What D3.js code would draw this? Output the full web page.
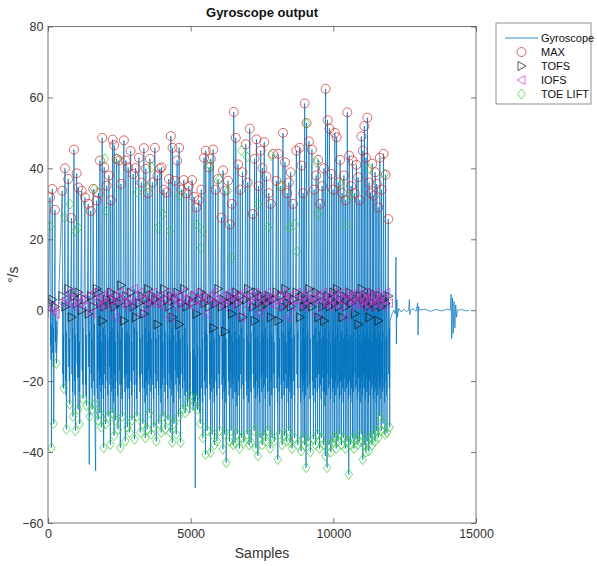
<!DOCTYPE html>
<html>
<head>
<meta charset="utf-8">
<script src="https://cdn.jsdelivr.net/npm/d3@7"></script>
<style>
  body { margin: 0; background: #fff; }
  svg text { font-family: "Liberation Sans", Arial, Helvetica, sans-serif; }
</style>
</head>
<body>
<div id="chart"></div>
<script>
// 每一步的 MAX 峰值所在采样点
const strideSamples = [
  70,150,245,500,595,710,822,910,1005,1060,
  1180,1295,1410,1498,1585,1705,1768,1820,1900,1970,
  2055,2135,2198,2265,2320,2405,2485,2555,2660,2730,
  2810,2895,2985,3070,3185,3273,3360,3430,3500,3570,
  3658,3745,3833,3920,3980,4060,4155,4235,4305,4364,
  4445,4525,4595,4680,4760,4848,4935,5050,5120,5198,
  5285,5373,5470,5530,5645,5705,5786,5873,5960,6080,
  6135,6195,6310,6370,6440,6510,6580,6660,6738,6815,
  6930,7000,7070,7175,7238,7305,7378,7455,7515,7578,
  7655,7735,7805,7885,8005,8068,8155,8235,8305,8383,
  8442,8505,8593,8705,8820,8887,8943,8995,9062,9145,
  9250,9328,9398,9468,9538,9608,9670,9730,9797,9863,
  9933,9993,10052,10115,10178,10238,10308,10370,10430,10490,
  10556,10623,10675,10745,10808,10868,10927,10983,11036,11088,
  11141,11193,11253,11305,11365,11410,11466,11522,11575,11630,
  11690,11760,11830,11925
];
const maxValues = [
  31.8,34.2,28.3,33.7,40,37,26,45.3,38.6,34.6,
  33.7,31.8,30,28,34.2,30.9,33,42.2,48.6,40.3,
  35.1,38,31,48.1,46.5,42.7,42.2,35.6,47.9,42.2,
  40.3,44.9,38.4,40.1,43,36,45.7,39.9,33,42.7,
  36,45.8,38,39.9,40.3,34,33.2,37,49.1,45.8,
  36.5,42.2,45.8,34,36.7,33,35,36.7,32,29,
  31,34,43,45,40.3,42.7,45.3,34,37,26.1,
  39.4,33.7,36.5,24.2,30,55.9,48.6,41.1,34,38.9,
  46.8,36,51.2,27.1,42.7,48.2,35,45,40.1,47.4,
  37.7,33,30,44.1,36.5,44.1,35,50,41.7,33,
  36,38.9,30,45,45.8,40.8,33,58.3,52.8,47.6,
  45.3,34,38,42.4,30,35,40,62.4,53.6,51.2,
  38.4,34,50,48.8,36,42.4,33,38,31,55.8,
  43.6,35,42.2,33,41,37.5,31,49,45,51.9,
  43,54.3,36,33,41.3,32.3,38.9,35.6,29,43,
  34,44.1,38.2,25.7
];
const tofsValues = [
  2,3,1,4,1,6,-2,4,2,5,
  0,3,-1,4,1,6,5,2,-3,1,
  3,2,5,3,1,4,2,7,-3,4,
  2,5,1,-2,2,4,-1,3,6,2,
  4,3,-4,4,2,6,3,1,4,-2,
  3,5,-4,2,6,1,3,2,4,-1,
  3,5,2,4,1,3,-5,2,6,1,
  3,-6,2,4,-1,3,5,2,4,-2,
  3,6,4,1,-3,5,2,4,1,3,
  2,4,-2,3,5,-3,4,1,6,2,
  4,1,3,5,-2,4,1,3,2,6,
  1,3,5,-2,4,1,-3,2,4,1,
  3,5,2,6,1,3,-2,4,1,3,
  5,2,4,-1,3,-4,4,6,3,2,
  4,1,-2,5,2,4,1,3,-3,4,
  1,3,2,4
];
const iofsValues = [
  1,0,-1,2,3,5,2,1,4,2,
  3,1,4,-1,5,2,3,1,4,2,
  5,3,1,4,-2,3,5,2,4,1,
  3,2,6,3,5,-1,3,1,4,2,
  5,3,2,4,1,3,5,-2,4,3,
  1,4,2,5,3,2,4,1,3,5,
  2,4,3,-1,4,2,5,3,2,4,
  1,3,5,2,4,3,1,4,-2,5,
  3,1,4,2,5,3,-1,4,1,3,
  5,2,4,3,1,4,2,5,3,-2,
  4,1,3,5,2,4,1,3,5,2,
  4,3,-1,4,2,5,3,2,4,1,
  3,5,2,4,1,3,5,-2,4,3,
  1,4,2,5,3,2,4,1,3,5,
  2,4,3,1,4,2,5,3,2,4,
  1,3,5,2
];
// 支撑期三个中间点
const stanceLowValues = [
  -10,-12,-9,-18,-20,-16,-18,-20,-15,-19,
  -17,-21,-16,-18,-20,-22,-17,-19,-21,-18,
  -20,-16,-19,-22,-18,-20,-17,-21,-19,-18,
  -22,-20,-17,-21,-19,-18,-22,-20,-17,-19,
  -21,-18,-20,-22,-17,-19,-21,-18,-20,-22,
  -17,-19,-21,-18,-20,-23,-25,-24,-26,-24,
  -25,-22,-20,-18,-21,-19,-22,-20,-18,-21,
  -19,-22,-20,-18,-21,-19,-23,-20,-18,-21,
  -20,-22,-19,-18,-21,-20,-22,-19,-18,-21,
  -19,-23,-20,-18,-22,-19,-21,-20,-18,-22,
  -19,-21,-20,-18,-22,-19,-21,-20,-18,-21,
  -20,-22,-19,-18,-21,-19,-23,-20,-18,-21,
  -19,-22,-20,-18,-21,-20,-22,-19,-18,-21,
  -20,-22,-19,-18,-21,-19,-22,-20,-18,-21,
  -19,-22,-20,-18,-21,-19,-22,-20,-18,-21,
  -19,-22,-20,-18
];
const stanceDeepValues = [
  -14,-16,-12,-22,-24,-20,-23,-24,-19,-23,
  -21,-24,-20,-22,-24,-25,-21,-23,-25,-22,
  -24,-21,-23,-26,-22,-24,-21,-25,-23,-22,
  -25,-24,-21,-25,-23,-22,-26,-24,-21,-23,
  -25,-22,-24,-26,-21,-23,-25,-22,-24,-26,
  -21,-23,-25,-22,-24,-27,-29,-28,-30,-28,
  -29,-26,-24,-22,-25,-23,-26,-24,-22,-25,
  -23,-26,-24,-22,-25,-23,-27,-24,-22,-25,
  -24,-26,-23,-22,-25,-24,-26,-23,-22,-25,
  -23,-27,-24,-22,-26,-23,-25,-24,-22,-26,
  -23,-25,-24,-22,-26,-23,-25,-24,-22,-25,
  -24,-26,-23,-22,-25,-23,-27,-24,-22,-25,
  -23,-26,-24,-22,-25,-24,-26,-23,-22,-25,
  -24,-26,-23,-22,-25,-23,-26,-24,-22,-25,
  -23,-26,-24,-22,-25,-23,-26,-24,-22,-25,
  -23,-26,-24,-22
];
const stanceMidValues = [
  -4,-5,-3,-7,-6,-8,-5,-7,-6,-9,
  -5,-7,-6,-8,-4,-7,-6,-9,-5,-7,
  -8,-6,-5,-7,-9,-6,-8,-5,-7,-6,
  -7,-9,-5,-6,-8,-7,-5,-9,-6,-8,
  -6,-8,-7,-5,-9,-6,-7,-8,-5,-7,
  -9,-6,-8,-7,-5,-10,-12,-11,-13,-10,
  -11,-8,-6,-7,-9,-5,-8,-6,-7,-9,
  -6,-8,-5,-7,-9,-6,-8,-7,-5,-8,
  -7,-9,-6,-5,-8,-7,-9,-6,-7,-5,
  -8,-6,-7,-9,-5,-8,-6,-7,-9,-6,
  -5,-8,-7,-6,-9,-5,-8,-7,-6,-8,
  -7,-5,-9,-6,-8,-7,-5,-8,-6,-9,
  -6,-8,-7,-5,-9,-6,-8,-7,-5,-8,
  -7,-9,-6,-8,-5,-7,-9,-6,-8,-7,
  -5,-8,-6,-9,-7,-5,-8,-6,-7,-9,
  -6,-8,-7,-5
];
const toeLiftValues = [
  -38.8,-32,-15,-22,-33.6,-26.5,-30,-34,-28,-32.1,
  -25,-26.9,-30,-28,-26.5,-31,-29,-33,-38.8,-32.1,
  -30,-37.9,-29,-35.4,-31,-33.6,-38.8,-30,-36.9,-33,
  -34.5,-31,-36.4,-30,-34.5,-32,-36,-33.6,-29,-35,
  -33,-37,-32,-34.5,-30,-33.6,-31,-34.5,-37.3,-32,
  -35,-30,-37.3,-27.9,-29,-26,-24.1,-27,-25,-28,
  -32,-36,-40.7,-34,-40.2,-35,-38,-36.9,-34,-39.2,
  -35,-43,-37,-34,-38,-37.3,-35,-39,-36,-37.3,
  -35,-38,-37.3,-34,-39,-41.1,-36,-38,-35.4,-37,
  -34,-39,-36,-37,-42.1,-35,-38,-35.4,-37,-34,
  -37.3,-39,-36,-38,-39.7,-36,-38,-44.4,-37,-40,
  -36.4,-38,-35,-39,-36,-38,-41.1,-44.4,-38,-40,
  -37.3,-36,-39,-37,-35,-38,-36,-39,-37,-46.3,
  -38,-36,-39,-36.4,-38,-37,-35,-42.1,-38,-40,
  -37,-39.7,-36,-38,-35,-37,-34,-36,-29.8,-34,
  -32,-35,-34.5,-33
];
// 上方被标记为 TOE LIFT 的点
const toeHighSamples = [70,595,770,945,1060,1620,1995,2055,2405,3140,3510,3630,3860,4035,4270,4620,5205,5355,5435,5670,5995,6310,6440,6780,6975,7360,7710,7820,8180,8470,8645,8715,9055,9405,9460,10280,10455,10570,11270,11795];
const toeHighValues = [23.7,26.1,29.9,22.3,23.3,34.2,42.7,28,42.7,33.2,34.6,40.3,23.3,27.1,22.3,32.3,24.2,17.5,22.3,40.8,37,33.7,14.7,45,43.2,29.9,23.3,43.6,35.1,23.3,24.2,16.6,52.6,41.7,27.1,35.6,24.2,32.3,39.9,38.4];
// 个别深谷
const dipSamples = [1445,1668,5160];
const dipValues = [-43.5,-45.3,-50.1];
// 结束后的静止段
const tailSamples = [11990,12060,12120,12170,12195,12210,12225,12245,12290,12380,12470,12560,12640,12665,12680,12700,12800,12900,12955,12970,12985,13010,13200,13400,13600,13800,14000,14100,14125,14150,14175,14200,14230,14260,14290,14320,14350,14500,14650,14750];
const tailValues = [-3,-1,0,-1,15,-9.5,3,-2,0.5,-0.5,0.3,-0.4,0,3,-1.2,0,0.4,-0.3,2,-7,1,0,0.3,-0.3,0.2,-0.2,0.3,0,4.5,-8,3.5,-6.5,2.5,-5,1.5,-2,0,0.2,-0.2,0];

const xTicks = [0, 5000, 10000, 15000];
const yTicks = [-60, -40, -20, 0, 20, 40, 60, 80];
const legendLabels = ['Gyroscope', 'MAX', 'TOFS', 'IOFS', 'TOE LIFT'];

// 步态各相位相对 MAX 的偏移(采样点)
const phaseOffset = { tofs: 9, low: 18, iofs: 28, deep: 36, mid: 43, toe: 50 };

const width = 597, height = 566;
const plot = { left: 48, right: 476, top: 26.5, bottom: 523 };

const svg = d3.select('#chart').append('svg')
  .attr('width', width)
  .attr('height', height);

const x = d3.scaleLinear().domain([0, 15000]).range([plot.left, plot.right]);
const y = d3.scaleLinear().domain([-60, 80]).range([plot.bottom, plot.top]);

// 拼出陀螺仪曲线
const linePts = [[0, -2]];
strideSamples.forEach((s, i) => {
  linePts.push([s, maxValues[i]]);
  linePts.push([s + phaseOffset.tofs, tofsValues[i]]);
  linePts.push([s + phaseOffset.low, stanceLowValues[i]]);
  linePts.push([s + phaseOffset.iofs, iofsValues[i]]);
  linePts.push([s + phaseOffset.deep, stanceDeepValues[i]]);
  linePts.push([s + phaseOffset.mid, stanceMidValues[i]]);
  linePts.push([s + phaseOffset.toe, toeLiftValues[i]]);
});
dipSamples.forEach((s, i) => linePts.push([s, dipValues[i]]));
tailSamples.forEach((s, i) => linePts.push([s, tailValues[i]]));
linePts.sort((a, b) => a[0] - b[0]);

svg.append('clipPath').attr('id', 'plot-clip')
  .append('rect')
  .attr('x', plot.left).attr('y', plot.top)
  .attr('width', plot.right - plot.left).attr('height', plot.bottom - plot.top);

const g = svg.append('g').attr('clip-path', 'url(#plot-clip)');

g.append('path')
  .datum(linePts)
  .attr('fill', 'none')
  .attr('stroke', '#0072BD')
  .attr('stroke-opacity', 0.7)
  .attr('stroke-width', 1)
  .attr('d', d3.line().x((d) => x(d[0])).y((d) => y(d[1])));

// 标记形状
const shapes = {
  circle: 'M4.5,0A4.5,4.5 0 1,1 -4.5,0A4.5,4.5 0 1,1 4.5,0Z',
  right: 'M4.5,0L-3.5,-4.5L-3.5,4.5Z',
  left: 'M-4.5,0L3.5,-4.5L3.5,4.5Z',
  diamond: 'M0,-5L3.8,0L0,5L-3.8,0Z',
};
const markerColors = { max: '#c92a2a', tofs: '#111111', iofs: '#c833d0', toe: '#33cc33' };

const drawMarkers = (pts, shape, color) => {
  g.append('g')
    .selectAll('path')
    .data(pts)
    .enter()
    .append('path')
    .attr('transform', (d) => `translate(${x(d[0])},${y(d[1])})`)
    .attr('d', shapes[shape])
    .attr('fill', 'none')
    .attr('stroke', color)
    .attr('stroke-width', 0.7);
};

drawMarkers(strideSamples.map((s, i) => [s, maxValues[i]]), 'circle', markerColors.max);
drawMarkers(strideSamples.map((s, i) => [s + phaseOffset.tofs, tofsValues[i]]), 'right', markerColors.tofs);
drawMarkers(strideSamples.map((s, i) => [s + phaseOffset.iofs, iofsValues[i]]), 'left', markerColors.iofs);
drawMarkers(strideSamples.map((s, i) => [s + phaseOffset.toe, toeLiftValues[i]])
  .concat(toeHighSamples.map((s, i) => [s, toeHighValues[i]])), 'diamond', markerColors.toe);

// 坐标轴(刻度朝内)
const axisColor = '#555';
const styleAxis = (sel) => {
  sel.select('.domain').remove();
  sel.selectAll('.tick line').attr('stroke', axisColor).attr('stroke-width', 0.8);
  sel.selectAll('.tick text').attr('fill', '#333').style('font-size', '12.5px');
};

svg.append('g')
  .attr('transform', `translate(0,${plot.bottom})`)
  .call(d3.axisBottom(x).tickValues(xTicks).tickSize(-5).tickPadding(6).tickFormat(d3.format('d')))
  .call(styleAxis);
svg.append('g')
  .attr('transform', `translate(0,${plot.top})`)
  .call(d3.axisTop(x).tickValues(xTicks).tickSize(-5).tickFormat(''))
  .call(styleAxis);
svg.append('g')
  .attr('transform', `translate(${plot.left},0)`)
  .call(d3.axisLeft(y).tickValues(yTicks).tickSize(-5).tickPadding(4.5))
  .call(styleAxis);
svg.append('g')
  .attr('transform', `translate(${plot.right},0)`)
  .call(d3.axisRight(y).tickValues(yTicks).tickSize(-5).tickFormat(''))
  .call(styleAxis);

svg.append('rect')
  .attr('x', plot.left).attr('y', plot.top)
  .attr('width', plot.right - plot.left).attr('height', plot.bottom - plot.top)
  .attr('fill', 'none')
  .attr('stroke', axisColor)
  .attr('stroke-width', 0.8);

// 标题和轴标签
const cx = (plot.left + plot.right) / 2;
svg.append('text')
  .attr('x', cx).attr('y', 17)
  .attr('text-anchor', 'middle')
  .style('font-size', '13px').style('font-weight', 'bold')
  .attr('fill', '#111')
  .text('Gyroscope output');
svg.append('text')
  .attr('x', cx).attr('y', 558)
  .attr('text-anchor', 'middle')
  .style('font-size', '14px')
  .attr('fill', '#333')
  .text('Samples');
svg.append('text')
  .attr('transform', `translate(18,${(plot.top + plot.bottom) / 2}) rotate(-90)`)
  .attr('text-anchor', 'middle')
  .style('font-size', '14px')
  .attr('fill', '#333')
  .text('°/s');

// 图例
const legend = svg.append('g').attr('id', 'legend');
legend.append('rect')
  .attr('x', 496).attr('y', 23)
  .attr('width', 95).attr('height', 81)
  .attr('fill', '#fff')
  .attr('stroke', '#777')
  .attr('stroke-width', 0.8);
const legendShapes = [null, 'circle', 'right', 'left', 'diamond'];
const legendColors = ['#0072BD', markerColors.max, markerColors.tofs, markerColors.iofs, markerColors.toe];
legendLabels.forEach((label, i) => {
  const ly = 38 + i * 14;
  if (legendShapes[i] === null) {
    legend.append('line')
      .attr('x1', 505).attr('x2', 538).attr('y1', ly).attr('y2', ly)
      .attr('stroke', legendColors[i]).attr('stroke-width', 0.8);
  } else {
    legend.append('path')
      .attr('transform', `translate(521.5,${ly})`)
      .attr('d', shapes[legendShapes[i]])
      .attr('fill', 'none')
      .attr('stroke', legendColors[i])
      .attr('stroke-width', 0.7);
  }
  legend.append('text')
    .attr('x', 541).attr('y', ly)
    .attr('dy', '0.35em')
    .style('font-size', '11px')
    .attr('fill', '#111')
    .text(label);
});
</script>
</body>
</html>
